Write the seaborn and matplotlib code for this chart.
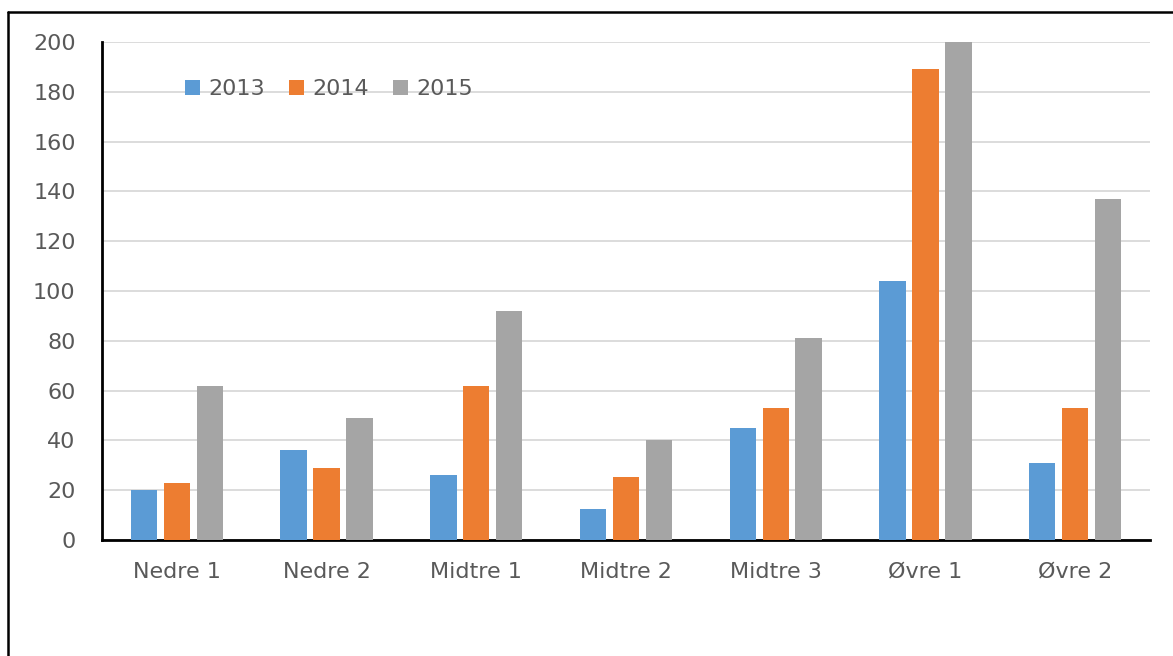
import numpy as np
import pandas as pd
import matplotlib
matplotlib.use("Agg")
import matplotlib.pyplot as plt
from matplotlib.lines import Line2D
import seaborn as sns

areas = ["Nedre 1", "Nedre 2", "Midtre 1", "Midtre 2", "Midtre 3", "Øvre 1", "Øvre 2"]
years = ["2013", "2014", "2015"]
v2013 = [20, 36, 26, 12.5, 45, 104, 31]
v2014 = [23, 29, 62, 25.5, 53, 189, 53]
v2015 = [62, 49, 92, 40, 81, 200, 137]
colors = ["#5b9bd5", "#ed7d31", "#a5a5a5"]

rows = []
for yr, vals in zip(years, [v2013, v2014, v2015]):
    for a, v in zip(areas, vals):
        rows.append({"area": a, "year": yr, "value": v})
df = pd.DataFrame(rows)

sns.set_style("white")
plt.rcParams["font.family"] = ["DejaVu Sans"]
txt = "#595959"
W, H = 1173, 656

fig = plt.figure(figsize=(W / 100, H / 100), dpi=100)
ax = fig.add_axes([102 / W, 1 - 540 / H, (1150 - 102) / W, (540 - 42) / H])

sns.barplot(data=df, x="area", y="value", hue="year", palette=colors,
            width=0.66, gap=0.2, linewidth=0, saturation=1,
            ax=ax, zorder=3)

ax.set_ylim(0, 200)
ax.set_yticks(np.arange(0, 201, 20))
ax.set_xlim(-0.5, len(areas) - 0.5)
ax.yaxis.grid(True, color="#d9d9d9", linewidth=1.3, zorder=0)
ax.set_axisbelow(True)
for s in ["top", "right"]:
    ax.spines[s].set_visible(False)
ax.spines["left"].set_color("black")
ax.spines["left"].set_linewidth(2)
ax.spines["bottom"].set_color("black")
ax.spines["bottom"].set_linewidth(2)
ax.set_xlabel("")
ax.set_ylabel("")
ax.tick_params(axis="both", length=0, labelsize=16, labelcolor=txt)
ax.tick_params(axis="y", pad=19)
ax.tick_params(axis="x", pad=15.5)

ax.legend(loc="center left", bbox_to_anchor=(185 / W, 1 - 89 / H),
          bbox_transform=fig.transFigure, ncol=3, frameon=False, borderpad=0,
          borderaxespad=0, fontsize=16, labelcolor=txt, handlelength=0.68,
          handleheight=0.68, handletextpad=0.36, columnspacing=1.1)

fig.lines.append(Line2D([8 / W, 1], [1 - 12 / H, 1 - 12 / H], transform=fig.transFigure,
                        color="black", linewidth=1.8))
fig.lines.append(Line2D([8 / W, 8 / W], [0, 1 - 12 / H], transform=fig.transFigure,
                        color="black", linewidth=1.8))

fig.savefig("out.png", dpi=100)
